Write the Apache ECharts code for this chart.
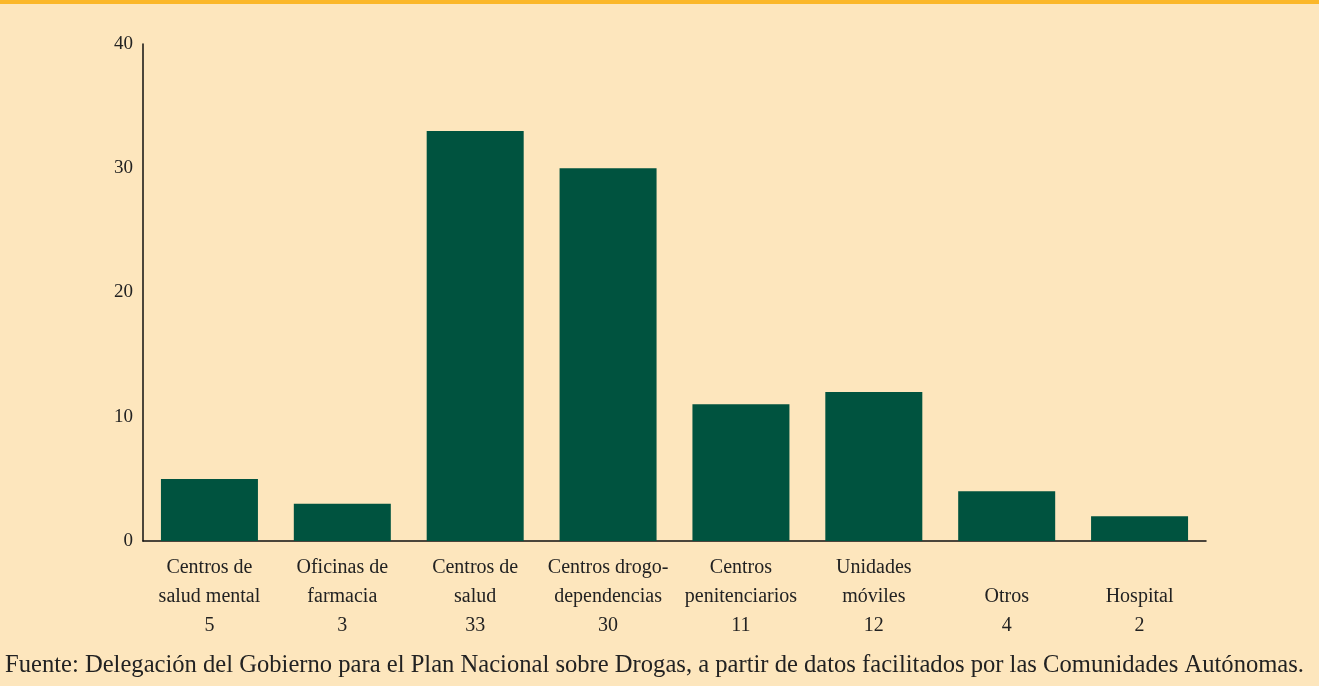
<!DOCTYPE html>
<html lang="es">
<head>
    <meta charset="UTF-8">
    <title>Centros</title>
    <style>
        html, body { margin: 0; padding: 0; background: #fde6bd; }
        #top { height: 4px; background: #fbb72a; }
        #main { width: 1319px; height: 682px; }
    </style>
</head>
<body>
<div id="top"></div>
<div id="main"></div>
<script src="https://cdn.jsdelivr.net/npm/echarts@6/dist/echarts.min.js"></script>
<script>
    const chart = echarts.init(document.getElementById('main'));
    // nombres en dos líneas (vacía arriba si sólo hay una)
    const categories = [
        'Centros de\nsalud mental',
        'Oficinas de\nfarmacia',
        'Centros de\nsalud',
        'Centros drogo-\ndependencias',
        'Centros\npenitenciarios',
        'Unidades\nmóviles',
        '\nOtros',
        '\nHospital'
    ];
    const values = [5, 3, 33, 30, 11, 12, 4, 2];
    const yTicks = { min: 0, max: 40, interval: 10 };
    const source = 'Fuente: Delegación del Gobierno para el Plan Nacional sobre Drogas, a partir de datos facilitados por las Comunidades Autónomas.';

    const font = 'Liberation Serif';
    const option = {
        backgroundColor: '#fde6bd',
        textStyle: { fontFamily: font },
        grid: { left: 143, right: 113, top: 40, bottom: 145 },
        graphic: [{
            type: 'text',
            left: 5,
            top: 649,
            style: { text: source, font: '24.6px "Liberation Serif"', fill: '#222' }
        }],
        xAxis: {
            type: 'category',
            data: categories,
            axisLine: { lineStyle: { color: '#111', width: 1.5 } },
            axisTick: { show: false },
            axisLabel: {
                color: '#222',
                fontSize: 20,
                lineHeight: 29,
                margin: 12,
                interval: 0,
                formatter: (v, i) => v + '\n' + values[i]
            }
        },
        yAxis: {
            type: 'value',
            min: yTicks.min,
            max: yTicks.max,
            interval: yTicks.interval,
            splitLine: { show: false },
            axisTick: { show: false },
            axisLine: { show: true, lineStyle: { color: '#111', width: 1.5 } },
            axisLabel: { color: '#222', fontSize: 19, margin: 10 }
        },
        series: [{
            type: 'bar',
            data: values,
            barWidth: 97,
            itemStyle: { color: '#00533f' },
            silent: true
        }]
    };
    chart.setOption(option);
</script>
</body>
</html>
